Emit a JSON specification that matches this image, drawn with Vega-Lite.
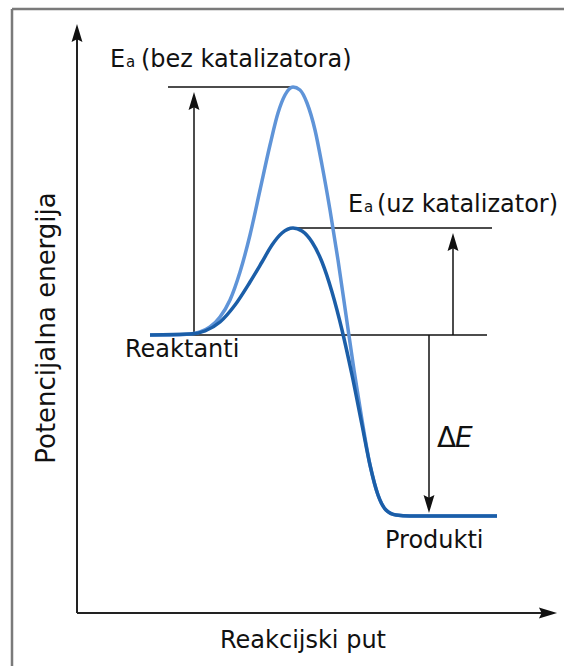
{
  "$schema": "https://vega.github.io/schema/vega-lite/v6.json",
  "width": 564,
  "height": 666,
  "autosize": "none",
  "padding": 0,
  "background": "white",
  "config": {"view": {"stroke": null}},
  "datasets": {
    "curves": [
      {"curve": "bez katalizatora", "t": 73, "E": 278},
      {"curve": "bez katalizatora", "t": 93, "E": 278},
      {"curve": "bez katalizatora", "t": 113, "E": 279},
      {"curve": "bez katalizatora", "t": 123, "E": 281},
      {"curve": "bez katalizatora", "t": 133, "E": 286},
      {"curve": "bez katalizatora", "t": 143, "E": 296},
      {"curve": "bez katalizatora", "t": 153, "E": 313},
      {"curve": "bez katalizatora", "t": 163, "E": 341},
      {"curve": "bez katalizatora", "t": 173, "E": 378},
      {"curve": "bez katalizatora", "t": 183, "E": 423},
      {"curve": "bez katalizatora", "t": 193, "E": 468},
      {"curve": "bez katalizatora", "t": 201, "E": 500},
      {"curve": "bez katalizatora", "t": 208, "E": 518},
      {"curve": "bez katalizatora", "t": 216, "E": 526},
      {"curve": "bez katalizatora", "t": 223, "E": 523},
      {"curve": "bez katalizatora", "t": 230, "E": 510},
      {"curve": "bez katalizatora", "t": 238, "E": 483},
      {"curve": "bez katalizatora", "t": 245, "E": 448},
      {"curve": "bez katalizatora", "t": 253, "E": 403},
      {"curve": "bez katalizatora", "t": 261, "E": 353},
      {"curve": "bez katalizatora", "t": 269, "E": 298},
      {"curve": "bez katalizatora", "t": 277, "E": 243},
      {"curve": "bez katalizatora", "t": 285, "E": 193},
      {"curve": "bez katalizatora", "t": 293, "E": 148},
      {"curve": "bez katalizatora", "t": 301, "E": 118},
      {"curve": "bez katalizatora", "t": 309, "E": 103},
      {"curve": "bez katalizatora", "t": 319, "E": 98},
      {"curve": "bez katalizatora", "t": 333, "E": 97},
      {"curve": "bez katalizatora", "t": 420, "E": 97},
      {"curve": "uz katalizator", "t": 73, "E": 278},
      {"curve": "uz katalizator", "t": 113, "E": 279},
      {"curve": "uz katalizator", "t": 128, "E": 282},
      {"curve": "uz katalizator", "t": 143, "E": 291},
      {"curve": "uz katalizator", "t": 158, "E": 308},
      {"curve": "uz katalizator", "t": 173, "E": 331},
      {"curve": "uz katalizator", "t": 185, "E": 351},
      {"curve": "uz katalizator", "t": 195, "E": 368},
      {"curve": "uz katalizator", "t": 205, "E": 380},
      {"curve": "uz katalizator", "t": 216, "E": 385},
      {"curve": "uz katalizator", "t": 225, "E": 382},
      {"curve": "uz katalizator", "t": 235, "E": 371},
      {"curve": "uz katalizator", "t": 245, "E": 351},
      {"curve": "uz katalizator", "t": 255, "E": 321},
      {"curve": "uz katalizator", "t": 265, "E": 283},
      {"curve": "uz katalizator", "t": 275, "E": 238},
      {"curve": "uz katalizator", "t": 285, "E": 188},
      {"curve": "uz katalizator", "t": 293, "E": 148},
      {"curve": "uz katalizator", "t": 301, "E": 118},
      {"curve": "uz katalizator", "t": 309, "E": 103},
      {"curve": "uz katalizator", "t": 319, "E": 98},
      {"curve": "uz katalizator", "t": 333, "E": 97},
      {"curve": "uz katalizator", "t": 420, "E": 97}
    ],
    "lines": [
      {"t1": 91, "t2": 215, "E1": 526, "E2": 526},
      {"t1": 218, "t2": 415, "E1": 385, "E2": 385},
      {"t1": 73, "t2": 410, "E1": 278, "E2": 278},
      {"t1": 117, "t2": 117, "E1": 278, "E2": 512},
      {"t1": 376, "t2": 376, "E1": 278, "E2": 371},
      {"t1": 352, "t2": 352, "E1": 278, "E2": 109}
    ],
    "axes": [
      {"t1": 0, "t2": 0, "E1": 0, "E2": 580},
      {"t1": 0, "t2": 471, "E1": 0, "E2": 0}
    ],
    "frame": [
      {"t1": -65, "t2": -65, "E1": -53, "E2": 604},
      {"t1": -65, "t2": 487, "E1": 604, "E2": 604}
    ],
    "heads": [
      {"t": 117, "E": 512, "dir": "up"},
      {"t": 376, "E": 371, "dir": "up"},
      {"t": 352, "E": 109, "dir": "down"},
      {"t": 0, "E": 580, "dir": "up"},
      {"t": 471, "E": 0, "dir": "right"}
    ],
    "labels": [
      {"t": 33, "E": 546, "label": "E"},
      {"t": 64, "E": 546, "label": "(bez katalizatora)"},
      {"t": 271, "E": 401, "label": "E"},
      {"t": 300, "E": 401, "label": "(uz katalizator)"},
      {"t": 48, "E": 256, "label": "Reaktanti"},
      {"t": 308, "E": 65, "label": "Produkti"}
    ],
    "subs": [
      {"t": 49, "E": 546, "label": "a"},
      {"t": 287, "E": 401, "label": "a"}
    ],
    "delta": [
      {"t": 360, "E": 166, "label": "Δ"}
    ],
    "deltaE": [
      {"t": 378, "E": 166, "label": "E"}
    ],
    "xtitle": [
      {"t": 226, "E": -35, "label": "Reakcijski put"}
    ],
    "ytitle": [
      {"t": -22, "E": 285, "label": "Potencijalna energija"}
    ]
  },
  "layer": [
    {
      "data": {"name": "frame"},
      "mark": {"type": "rule", "color": "#7a7a7a", "strokeWidth": 2.5},
      "encoding": {
        "x": {"field": "t1", "type": "quantitative", "scale": {"domain": [-77, 487], "nice": false, "zero": false}, "axis": null},
        "x2": {"field": "t2"},
        "y": {"field": "E1", "type": "quantitative", "scale": {"domain": [-53, 613], "nice": false, "zero": false}, "axis": null},
        "y2": {"field": "E2"}
      }
    },
    {
      "data": {"name": "axes"},
      "mark": {"type": "rule", "color": "#222222", "strokeWidth": 2},
      "encoding": {
        "x": {"field": "t1", "type": "quantitative", "axis": null},
        "x2": {"field": "t2"},
        "y": {"field": "E1", "type": "quantitative", "axis": null},
        "y2": {"field": "E2"}
      }
    },
    {
      "data": {"name": "lines"},
      "mark": {"type": "rule", "color": "#111111", "strokeWidth": 1.5},
      "encoding": {
        "x": {"field": "t1", "type": "quantitative", "axis": null},
        "x2": {"field": "t2"},
        "y": {"field": "E1", "type": "quantitative", "axis": null},
        "y2": {"field": "E2"}
      }
    },
    {
      "data": {"name": "heads"},
      "mark": {"type": "point", "filled": true, "opacity": 1, "size": 330, "color": "#111111", "strokeWidth": 0},
      "encoding": {
        "x": {"field": "t", "type": "quantitative", "axis": null},
        "y": {"field": "E", "type": "quantitative", "axis": null},
        "shape": {
          "field": "dir",
          "type": "nominal",
          "legend": null,
          "scale": {
            "domain": ["up", "down", "right"],
            "range": ["M0,-1L0.6,1L0,0.7L-0.6,1Z", "M0,1L0.6,-1L0,-0.7L-0.6,-1Z", "M1,0L-1,0.6L-0.7,0L-1,-0.6Z"]
          }
        }
      }
    },
    {
      "data": {"name": "curves"},
      "mark": {"type": "line", "strokeWidth": 3.5, "interpolate": "monotone"},
      "encoding": {
        "x": {"field": "t", "type": "quantitative", "axis": null},
        "y": {"field": "E", "type": "quantitative", "axis": null},
        "color": {
          "field": "curve",
          "type": "nominal",
          "legend": null,
          "scale": {"domain": ["bez katalizatora", "uz katalizator"], "range": ["#5f94d8", "#1b5ea8"]}
        }
      }
    },
    {
      "data": {"name": "labels"},
      "mark": {"type": "text", "align": "left", "baseline": "alphabetic", "font": "DejaVu Sans", "fontSize": 24, "color": "#111111"},
      "encoding": {
        "x": {"field": "t", "type": "quantitative", "axis": null},
        "y": {"field": "E", "type": "quantitative", "axis": null},
        "text": {"field": "label"}
      }
    },
    {
      "data": {"name": "subs"},
      "mark": {"type": "text", "align": "left", "baseline": "alphabetic", "font": "DejaVu Sans", "fontSize": 15, "color": "#111111"},
      "encoding": {
        "x": {"field": "t", "type": "quantitative", "axis": null},
        "y": {"field": "E", "type": "quantitative", "axis": null},
        "text": {"field": "label"}
      }
    },
    {
      "data": {"name": "delta"},
      "mark": {"type": "text", "align": "left", "baseline": "alphabetic", "font": "DejaVu Sans", "fontSize": 28, "color": "#111111"},
      "encoding": {
        "x": {"field": "t", "type": "quantitative", "axis": null},
        "y": {"field": "E", "type": "quantitative", "axis": null},
        "text": {"field": "label"}
      }
    },
    {
      "data": {"name": "deltaE"},
      "mark": {"type": "text", "align": "left", "baseline": "alphabetic", "font": "DejaVu Sans", "fontSize": 28, "fontStyle": "italic", "color": "#111111"},
      "encoding": {
        "x": {"field": "t", "type": "quantitative", "axis": null},
        "y": {"field": "E", "type": "quantitative", "axis": null},
        "text": {"field": "label"}
      }
    },
    {
      "data": {"name": "xtitle"},
      "mark": {"type": "text", "align": "center", "baseline": "alphabetic", "font": "DejaVu Sans", "fontSize": 24, "color": "#111111"},
      "encoding": {
        "x": {"field": "t", "type": "quantitative", "axis": null},
        "y": {"field": "E", "type": "quantitative", "axis": null},
        "text": {"field": "label"}
      }
    },
    {
      "data": {"name": "ytitle"},
      "mark": {"type": "text", "align": "center", "baseline": "alphabetic", "angle": 270, "font": "DejaVu Sans", "fontSize": 26, "color": "#111111"},
      "encoding": {
        "x": {"field": "t", "type": "quantitative", "axis": null},
        "y": {"field": "E", "type": "quantitative", "axis": null},
        "text": {"field": "label"}
      }
    }
  ]
}
